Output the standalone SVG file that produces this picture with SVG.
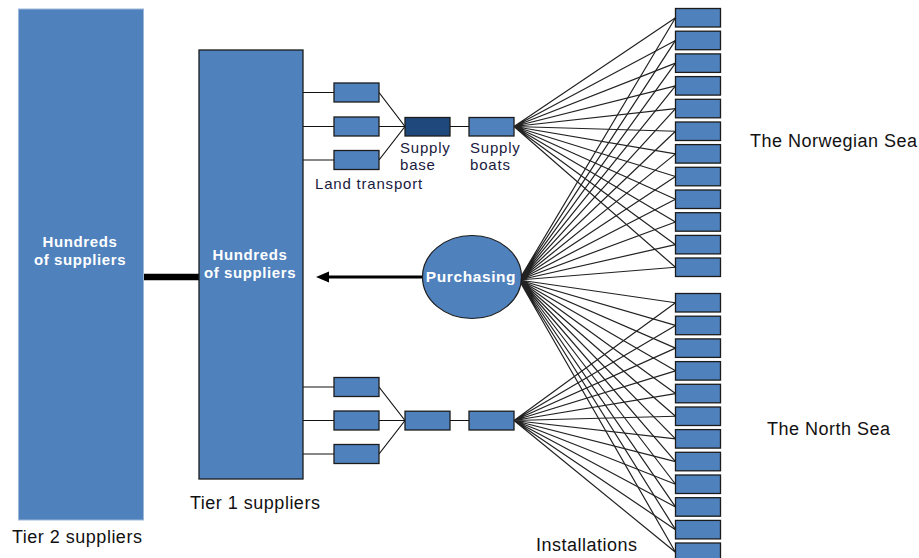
<svg xmlns="http://www.w3.org/2000/svg" width="919" height="558" viewBox="0 0 919 558">
<style>
.box{fill:#4F81BD;stroke:#1c1c1c;stroke-width:1.3}
.dark{fill:#1F497D;stroke:#1c1c1c;stroke-width:1.3}
.wt{font-family:"Liberation Sans",Arial,sans-serif;font-weight:bold;fill:#fff;font-size:15px;letter-spacing:0.6px;text-anchor:middle}
.lbl{font-family:"Liberation Sans",Arial,sans-serif;fill:#111;font-size:18px;letter-spacing:0.5px}
.sm{font-family:"Liberation Sans",Arial,sans-serif;fill:#1a1a40;font-size:15px;letter-spacing:0.8px}
.fan{fill:none;stroke:#222;stroke-width:1.2}
.tick{fill:none;stroke:#111;stroke-width:1.2}
</style>
<rect width="919" height="558" fill="#fff"/>
<g id="connectors">
<line x1="143.5" y1="277" x2="199" y2="277" stroke="#000" stroke-width="6.5"/>
<line x1="423" y1="277" x2="326" y2="277" stroke="#000" stroke-width="3"/>
<polygon points="316,277 329,271.5 329,282.5" fill="#000"/>
<path class="tick" d="M297,92.5H334M297,126.5H334M297,160H334M379,92.5L405,126.5M379,126.5H405M379,160L405,126.5M450,126.5H469"/>
<path class="tick" d="M297,387H334M297,420.5H334M297,454H334M379,387L405,420.5M379,420.5H405M379,454L405,420.5M450,420.5H469"/>
<path class="fan" d="M514,126.5L675.5,17.75M514,126.5L675.5,40.45M514,126.5L675.5,63.15M514,126.5L675.5,85.85M514,126.5L675.5,108.55M514,126.5L675.5,131.25M514,126.5L675.5,153.85M514,126.5L675.5,176.55M514,126.5L675.5,199.25M514,126.5L675.5,221.95M514,126.5L675.5,244.65M514,126.5L675.5,267.25"/>
<path class="fan" d="M519,280L675.5,17.75M519,280L675.5,40.45M519,280L675.5,63.15M519,280L675.5,85.85M519,280L675.5,108.55M519,280L675.5,131.25M519,280L675.5,153.85M519,280L675.5,176.55M519,280L675.5,199.25M519,280L675.5,221.95M519,280L675.5,244.65M519,280L675.5,267.25M519,280L675.5,302.75M519,280L675.5,325.45M519,280L675.5,348.15M519,280L675.5,370.85M519,280L675.5,393.55M519,280L675.5,416.25M519,280L675.5,438.85M519,280L675.5,461.55M519,280L675.5,484.25M519,280L675.5,506.95M519,280L675.5,529.65M519,280L675.5,552.25"/>
<path class="fan" d="M514,420.5L675.5,302.75M514,420.5L675.5,325.45M514,420.5L675.5,348.15M514,420.5L675.5,370.85M514,420.5L675.5,393.55M514,420.5L675.5,416.25M514,420.5L675.5,438.85M514,420.5L675.5,461.55M514,420.5L675.5,484.25M514,420.5L675.5,506.95M514,420.5L675.5,529.65M514,420.5L675.5,552.25"/>
</g>
<g id="tier2">
<rect x="18.5" y="9" width="125" height="511" fill="#4F81BD" stroke="#9DB7D9" stroke-width="1"/>
<text class="wt" x="80" y="247">Hundreds</text>
<text class="wt" x="80" y="265">of suppliers</text>
<text class="lbl" x="12" y="543">Tier 2 suppliers</text>
</g>
<g id="tier1">
<rect class="box" x="199" y="50" width="104" height="429"/>
<text class="wt" x="250" y="260">Hundreds</text>
<text class="wt" x="250" y="278">of suppliers</text>
<text class="lbl" x="190" y="509">Tier 1 suppliers</text>
</g>
<g id="land-transport-top">
<rect class="box" x="334" y="83" width="45" height="19"/>
<rect class="box" x="334" y="117" width="45" height="19"/>
<rect class="box" x="334" y="150.5" width="45" height="19"/>
<text class="sm" x="315" y="189">Land transport</text>
</g>
<g id="supply-base-top">
<rect class="dark" x="405" y="117.5" width="45" height="18.5"/>
<text class="sm" x="400" y="153">Supply</text>
<text class="sm" x="400" y="170">base</text>
</g>
<g id="supply-boats-top">
<rect class="box" x="469" y="117.5" width="45" height="18.5"/>
<text class="sm" x="470" y="153">Supply</text>
<text class="sm" x="470" y="170">boats</text>
</g>
<g id="land-transport-bottom">
<rect class="box" x="334" y="377.5" width="45" height="19"/>
<rect class="box" x="334" y="411" width="45" height="19"/>
<rect class="box" x="334" y="444.5" width="45" height="19"/>
</g>
<g id="supply-base-bottom">
<rect class="box" x="405" y="411.2" width="45" height="18.8"/>
</g>
<g id="supply-boats-bottom">
<rect class="box" x="469" y="411.2" width="45" height="18.8"/>
</g>
<g id="purchasing">
<ellipse cx="472" cy="277" rx="49.5" ry="41.5" fill="#4F81BD" stroke="#1c1c1c" stroke-width="1.2"/>
<text class="wt" x="471" y="282" style="font-size:15.5px">Purchasing</text>
</g>
<g id="installations-norwegian-sea">
<rect class="box" x="675.5" y="8.5" width="45" height="18.5"/>
<rect class="box" x="675.5" y="31.2" width="45" height="18.5"/>
<rect class="box" x="675.5" y="53.9" width="45" height="18.5"/>
<rect class="box" x="675.5" y="76.6" width="45" height="18.5"/>
<rect class="box" x="675.5" y="99.3" width="45" height="18.5"/>
<rect class="box" x="675.5" y="122" width="45" height="18.5"/>
<rect class="box" x="675.5" y="144.6" width="45" height="18.5"/>
<rect class="box" x="675.5" y="167.3" width="45" height="18.5"/>
<rect class="box" x="675.5" y="190" width="45" height="18.5"/>
<rect class="box" x="675.5" y="212.7" width="45" height="18.5"/>
<rect class="box" x="675.5" y="235.4" width="45" height="18.5"/>
<rect class="box" x="675.5" y="258" width="45" height="18.5"/>
<text class="lbl" x="750" y="146.5">The Norwegian Sea</text>
</g>
<g id="installations-north-sea">
<rect class="box" x="675.5" y="293.5" width="45" height="18.5"/>
<rect class="box" x="675.5" y="316.2" width="45" height="18.5"/>
<rect class="box" x="675.5" y="338.9" width="45" height="18.5"/>
<rect class="box" x="675.5" y="361.6" width="45" height="18.5"/>
<rect class="box" x="675.5" y="384.3" width="45" height="18.5"/>
<rect class="box" x="675.5" y="407" width="45" height="18.5"/>
<rect class="box" x="675.5" y="429.6" width="45" height="18.5"/>
<rect class="box" x="675.5" y="452.3" width="45" height="18.5"/>
<rect class="box" x="675.5" y="475" width="45" height="18.5"/>
<rect class="box" x="675.5" y="497.7" width="45" height="18.5"/>
<rect class="box" x="675.5" y="520.4" width="45" height="18.5"/>
<rect class="box" x="675.5" y="543" width="45" height="18.5"/>
<text class="lbl" x="767" y="435">The North Sea</text>
</g>
<g id="installations-label">
<text class="lbl" x="536" y="551">Installations</text>
</g>
</svg>
